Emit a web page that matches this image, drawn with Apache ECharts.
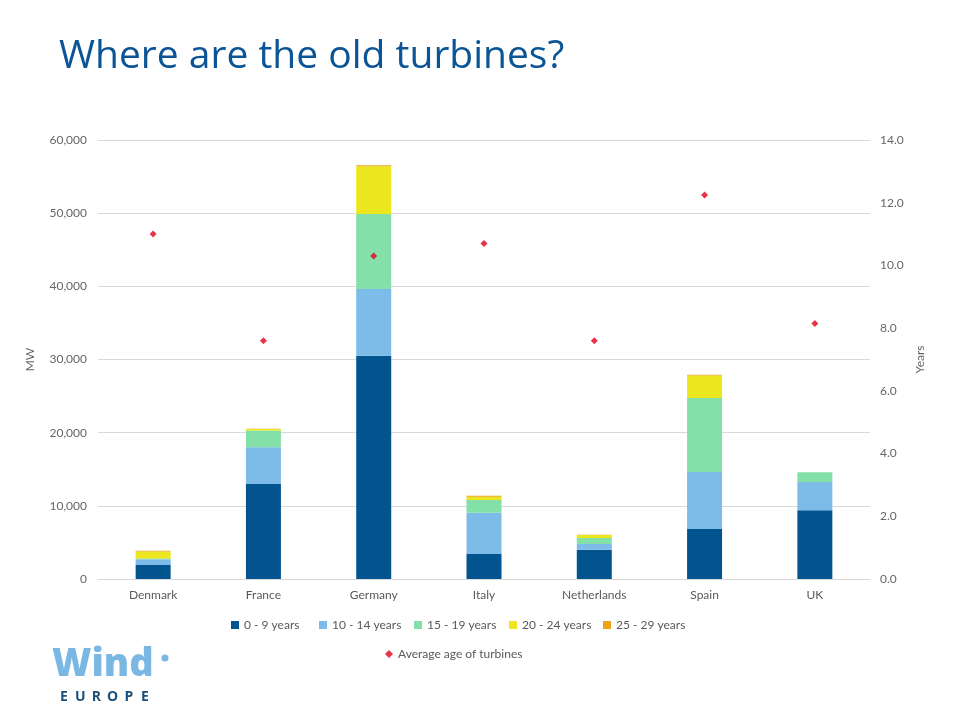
<!DOCTYPE html>
<html>
<head>
<meta charset="utf-8">
<script src="https://cdn.jsdelivr.net/npm/echarts@6/dist/echarts.min.js"></script>
<style>html,body{margin:0;padding:0;background:#fff}#c{width:960px;height:720px}</style>
</head>
<body>
<div id="c"></div>
<script>
const categories = ['Denmark','France','Germany','Italy','Netherlands','Spain','UK'];
const age0_9   = [1900, 13000, 30500, 3400, 4000, 6830, 9400];
const age10_14 = [800, 5000, 9150, 5650, 800, 7800, 3850];
const age15_19 = [100, 2300, 10250, 1750, 800, 10100, 1350];
const age20_24 = [950, 200, 6500, 450, 400, 3100, 0];
const age25_29 = [100, 50, 150, 130, 60, 100, 0];
const avgAge   = [11.0, 7.6, 10.3, 10.7, 7.6, 12.25, 8.15];
const seriesNames = ['0 - 9 years','10 - 14 years','15 - 19 years','20 - 24 years','25 - 29 years'];
const colors = ['#02548f','#7dbce8','#84e0a9','#ece61f','#e8a317'];
const avgName = 'Average age of turbines';

const chart = echarts.init(document.getElementById('c'));
const font = 'Lato, "Open Sans", sans-serif';
const barData = [age0_9, age10_14, age15_19, age20_24, age25_29];
const series = barData.map((d, i) => ({
  name: seriesNames[i], type: 'bar', stack: 'mw', data: d,
  barWidth: 35, itemStyle: { color: colors[i] }
}));
series.push({
  name: avgName, type: 'scatter', yAxisIndex: 1, data: avgAge,
  symbol: 'diamond', symbolSize: 7, itemStyle: { color: '#e3001b' }, z: 5
});
const lblColor = '#666666';
const legendLefts = [226, 314, 409, 504, 598];
const legends = seriesNames.map((n, i) => ({
  data: [n], top: 614, left: legendLefts[i], itemWidth: 8, itemHeight: 8,
  icon: 'rect', textStyle: { color: '#595959', fontSize: 12, fontFamily: font }
}));
legends.push({
  data: [{ name: avgName, icon: 'diamond' }], top: 643, left: 380,
  itemWidth: 8, itemHeight: 8, textStyle: { color: '#595959', fontSize: 12, fontFamily: font }
});
chart.setOption({
  animation: false,
  backgroundColor: '#fff',
  textStyle: { fontFamily: font },
  title: {
    text: 'Where are the old turbines?', left: 54, top: 32,
    textStyle: { fontFamily: '"Open Sans", sans-serif', fontSize: 39, fontWeight: 'normal', color: '#0b5596' }
  },
  grid: { left: 98, right: 90, top: 140, bottom: 141 },
  legend: legends,
  xAxis: {
    type: 'category', data: categories,
    axisLine: { lineStyle: { color: '#d9d9d9' } }, axisTick: { show: false },
    axisLabel: { color: '#595959', fontSize: 12, margin: 10 }
  },
  yAxis: [{
    type: 'value', min: 0, max: 60000, interval: 10000, name: 'MW',
    nameLocation: 'middle', nameGap: 62, nameTextStyle: { color: lblColor, fontSize: 12 },
    axisLabel: { color: lblColor, fontSize: 12, margin: 11,
      formatter: v => v === 0 ? '0' : String(v).replace(/\B(?=(\d{3})+(?!\d))/g, ',') },
    splitLine: { lineStyle: { color: '#d9d9d9' } }, axisLine: { show: false }, axisTick: { show: false }
  }, {
    type: 'value', min: 0, max: 14, interval: 2, name: 'Years',
    nameLocation: 'middle', nameGap: 43, nameRotate: 90, nameTextStyle: { color: lblColor, fontSize: 12 },
    axisLabel: { color: lblColor, fontSize: 12, margin: 10, formatter: v => v.toFixed(1) },
    splitLine: { show: false }, axisLine: { show: false }, axisTick: { show: false }
  }],
  series: series,
  graphic: [{
    type: 'text', left: 52, top: 646,
    style: { text: 'Wind', fill: '#7ab8e3', font: '800 38px "Open Sans", sans-serif' }
  }, {
    type: 'circle', shape: { cx: 165, cy: 658, r: 3.5 }, style: { fill: '#7ab8e3' }
  }].concat('EUROPE'.split('').map((ch, i) => ({
    type: 'text', x: 64 + i * 16.2, y: 697,
    style: { text: ch, fill: '#1d4f7a', font: 'bold 14px "Open Sans", sans-serif', align: 'center', verticalAlign: 'middle' }
  })))
});
</script>
</body>
</html>
